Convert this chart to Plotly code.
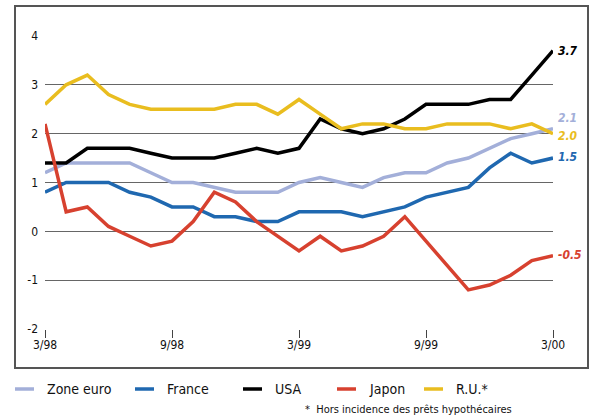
import plotly.graph_objects as go

months = list(range(25))
x_tick_vals = [0, 6, 12, 18, 24]
x_tick_text = ["3/98", "9/98", "3/99", "9/99", "3/00"]
y_tick_vals = [-2, -1, 0, 1, 2, 3, 4]
y_tick_text = ["-2", "-1", "0", "1", "2", "3", "4"]

series_names = ["Zone euro", "France", "USA", "Japon", "R.U.*"]
zone_euro = [1.2, 1.4, 1.4, 1.4, 1.4, 1.2, 1.0, 1.0, 0.9, 0.8, 0.8, 0.8, 1.0,
             1.1, 1.0, 0.9, 1.1, 1.2, 1.2, 1.4, 1.5, 1.7, 1.9, 2.0, 2.1]
france = [0.8, 1.0, 1.0, 1.0, 0.8, 0.7, 0.5, 0.5, 0.3, 0.3, 0.2, 0.2, 0.4,
          0.4, 0.4, 0.3, 0.4, 0.5, 0.7, 0.8, 0.9, 1.3, 1.6, 1.4, 1.5]
usa = [1.4, 1.4, 1.7, 1.7, 1.7, 1.6, 1.5, 1.5, 1.5, 1.6, 1.7, 1.6, 1.7,
       2.3, 2.1, 2.0, 2.1, 2.3, 2.6, 2.6, 2.6, 2.7, 2.7, 3.2, 3.7]
japon = [2.2, 0.4, 0.5, 0.1, -0.1, -0.3, -0.2, 0.2, 0.8, 0.6, 0.2, -0.1, -0.4,
         -0.1, -0.4, -0.3, -0.1, 0.3, -0.2, -0.7, -1.2, -1.1, -0.9, -0.6, -0.5]
ru = [2.6, 3.0, 3.2, 2.8, 2.6, 2.5, 2.5, 2.5, 2.5, 2.6, 2.6, 2.4, 2.7,
      2.4, 2.1, 2.2, 2.2, 2.1, 2.1, 2.2, 2.2, 2.2, 2.1, 2.2, 2.0]
end_labels = ["2.1", "1.5", "3.7", "-0.5", "2.0"]
end_label_y = [2.32, 1.52, 3.70, -0.48, 1.95]

colors = ["#a3afd9", "#1f68b0", "#000000", "#d7412f", "#e9bd1f"]
all_series = [zone_euro, france, usa, japon, ru]

FONT = "DejaVu Sans Condensed, Liberation Sans Narrow, Roboto, sans-serif"

fig = go.Figure()
for name, vals, col in zip(series_names, all_series, colors):
    fig.add_trace(go.Scatter(x=months, y=vals, mode="lines", name=name,
                             line=dict(color=col, width=3.5), showlegend=False,
                             hoverinfo="skip"))

# paper area = outer frame (px): x 15..588, y 6..368
FL, FR, FT, FB = 15, 588, 6, 368
FW, FH = FR - FL, FB - FT


def px_x(p):
    return (p - FL) / FW


def px_y(p):
    return (FB - p) / FH


# plot area (px): x 45..553, y 36..329
x_domain = [px_x(45), px_x(553)]
y_domain = [px_y(329), px_y(36)]

annotations = []
for txt, yv, col in zip(end_labels, end_label_y, colors):
    annotations.append(dict(x=24, y=yv, xref="x", yref="y", text=f"<b><i>{txt}</i></b>",
                            showarrow=False, xanchor="left", yanchor="middle", xshift=3,
                            font=dict(family=FONT, size=12, color=col)))

FRAME_COLOR = "#555555"
shapes = [dict(type="rect", xref="paper", yref="paper", x0=0, x1=1, y0=0, y1=1,
               line=dict(color=FRAME_COLOR, width=2), fillcolor="rgba(0,0,0,0)",
               layer="above", opacity=1)]
legend_swatch_x = [15, 135, 243, 337, 424]
legend_y = 389
for name, col, sx in zip(series_names, colors, legend_swatch_x):
    shapes.append(dict(type="line", xref="paper", yref="paper",
                       x0=px_x(sx), x1=px_x(sx + 19), y0=px_y(legend_y), y1=px_y(legend_y),
                       line=dict(color=col, width=3.5)))
    annotations.append(dict(x=px_x(sx + 30), y=px_y(legend_y), xref="paper", yref="paper",
                            text=name, showarrow=False, xanchor="left", yanchor="middle",
                            font=dict(family=FONT, size=14, color="#111111")))

annotations.append(dict(x=px_x(514), y=px_y(409), xref="paper", yref="paper",
                        text="*  Hors incidence des prêts hypothécaires", showarrow=False,
                        xanchor="right", yanchor="middle",
                        font=dict(family=FONT, size=11, color="#111111")))

frame_axis = dict(domain=[0, 1], range=[0, 1], showline=True, mirror=True,
                  linecolor=FRAME_COLOR, linewidth=2, showgrid=False, zeroline=False,
                  showticklabels=False, ticks="", automargin=False, fixedrange=True)

fig.update_layout(
    template="none",
    width=598, height=417,
    margin=dict(l=FL, r=598 - FR, t=FT, b=417 - FB, pad=0, autoexpand=False),
    paper_bgcolor="white", plot_bgcolor="rgba(0,0,0,0)",
    font=dict(family=FONT, size=12, color="#111111"),
    showlegend=False,
    annotations=annotations, shapes=shapes,
    xaxis=dict(domain=x_domain, range=[0, 24], tickvals=x_tick_vals, ticktext=x_tick_text,
               showgrid=False, zeroline=False, showline=False, automargin=False,
               ticks="outside", ticklen=8, tickwidth=1, tickcolor="#444444",
               ticklabelstandoff=-3,
               tickfont=dict(family=FONT, size=12, color="#111111")),
    yaxis=dict(domain=y_domain, range=[-2, 4], tickvals=y_tick_vals, ticktext=y_tick_text,
               showgrid=True, gridcolor="#666666", gridwidth=1, automargin=False,
               zeroline=False, showline=False, ticks="", ticklabelstandoff=6,
               tickfont=dict(family=FONT, size=12, color="#111111")),
    xaxis2=dict(anchor="y2", **frame_axis),
    yaxis2=dict(anchor="x2", **frame_axis),
)

fig.write_html("out.html", config={"displayModeBar": False},
               post_script="document.body.style.margin='0';document.body.style.overflow='hidden';")
